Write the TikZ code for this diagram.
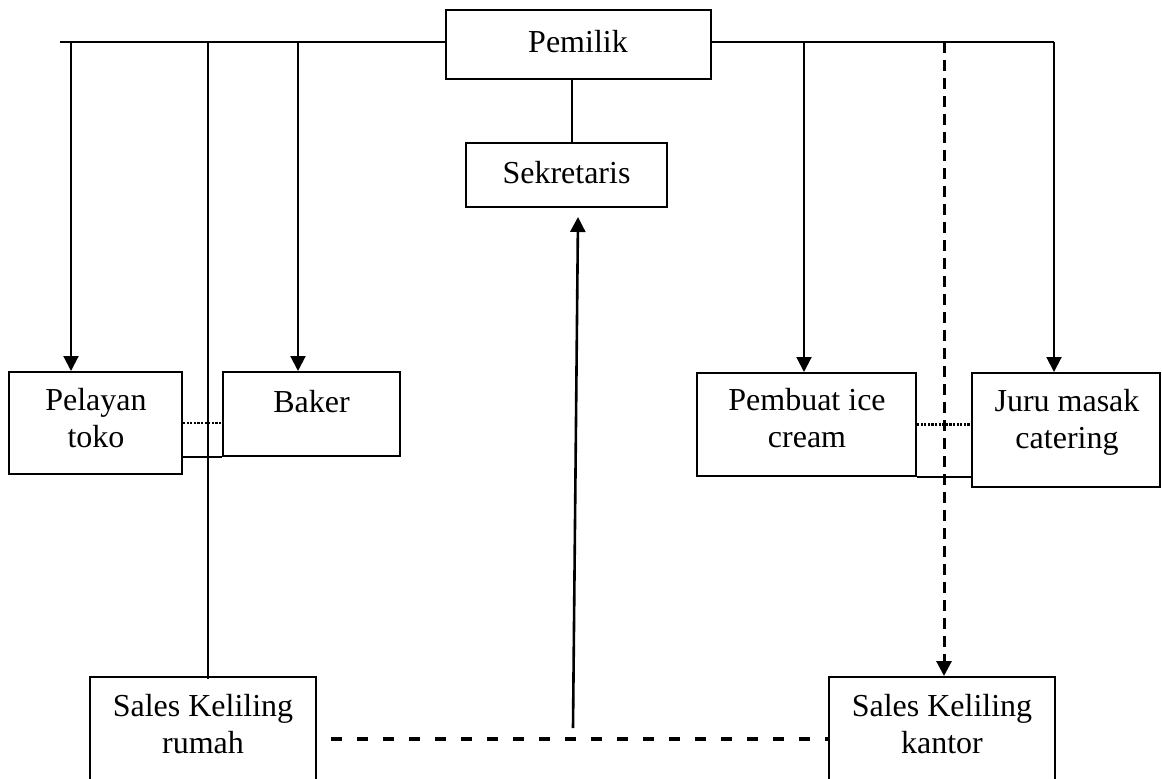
\documentclass[tikz,border=0pt]{standalone}
\usepackage{fontspec}
\setmainfont{Liberation Serif}
\usetikzlibrary{arrows.meta}
\begin{document}
\begin{tikzpicture}[x=0.5pt,y=-0.5pt,
  box/.style={draw,line width=1pt,rectangle,inner sep=0pt},
  txt/.style={font=\fontsize{16}{18.5}\selectfont,inner sep=0pt,align=center,anchor=base},
  ln/.style={line width=1pt},
  arr/.style={line width=1pt,-{Triangle[length=7.5pt,width=7.5pt]}},
  arrthick/.style={line width=1.3pt,-{Triangle[length=7.5pt,width=7.5pt]}},
  dsharr/.style={line width=1.5pt,dash pattern=on 5.5pt off 3.5pt,-{Triangle[length=7.5pt,width=7.5pt]}},
  dshh/.style={line width=2pt,dash pattern=on 5.5pt off 7.5pt},
  dotln/.style={line width=1.4pt,dash pattern=on 1.1pt off 0.7pt}
]
\clip (0,0) rectangle (1162,778);

% boxes
\node[box,minimum width=132.5pt,minimum height=34.5pt] (Pemilik) at (578.5,44.5) {};
\node[box,minimum width=100.5pt,minimum height=32pt] (Sekretaris) at (566.5,175) {};
\node[box,minimum width=86.5pt,minimum height=51pt] (Pelayan) at (95.5,423) {};
\node[box,minimum width=88.5pt,minimum height=42pt] (Baker) at (311.5,414) {};
\node[box,minimum width=109.5pt,minimum height=51.5pt] (Pembuat) at (806.5,424.5) {};
\node[box,minimum width=94pt,minimum height=57pt] (Juru) at (1066,430) {};
\node[box,minimum width=113pt,minimum height=56.5pt] (Rumah) at (203,733.5) {};
\node[box,minimum width=113pt,minimum height=56.5pt] (Kantor) at (942,733.5) {};

% texts (base = baseline of the last line)
\node[txt] (tPemilik) at (578,52) {Pemilik};
\node[txt] (tSekretaris) at (566.5,183) {Sekretaris};
\node[txt] (tPelayan) at (96,447) {Pelayan\\toko};
\node[txt] (tBaker) at (311.5,412) {Baker};
\node[txt] (tPembuat) at (807,447) {Pembuat ice\\cream};
\node[txt] (tJuru) at (1067,448) {Juru masak\\catering};
\node[txt] (tRumah) at (203,753) {Sales Keliling\\rumah};
\node[txt] (tKantor) at (942,753) {Sales Keliling\\kantor};

% bus line
\coordinate (bL) at (60,42);
\coordinate (bR) at (1054,42);
\draw[ln] (bL) -- (bL -| Pemilik.west);
\draw[ln] (Pemilik.east |- bR) -- (bR);

% drops
\coordinate (cPel) at (71,42);
\coordinate (cRum) at (208,42);
\coordinate (cBak) at (298,42);
\coordinate (cPem) at (804,42);
\coordinate (cKan) at (944,42);
\draw[arr] (cPel) -- (cPel |- Pelayan.north);
\draw[ln] (cRum) -- ([yshift=-1.5pt]cRum |- Rumah.north);
\draw[arr] (cBak) -- (cBak |- Baker.north);
\draw[arr] (cPem) -- (cPem |- Pembuat.north);
\draw[dsharr] (cKan) -- (cKan |- Kantor.north);
\draw[arr] (bR) -- (bR |- Juru.north);

% Pemilik - Sekretaris
\coordinate (cS) at (572,79);
\draw[ln] (cS |- Pemilik.south) -- (cS |- Sekretaris.north);

% arrow up to Sekretaris
\coordinate (aS) at (573,728);
\coordinate (aT) at (578,217);
\draw[arrthick] (aS) -- (aT);

% bottom dashed
\coordinate (dS) at (331,739);
\draw[dshh] (dS) -- (dS -| Kantor.west);

% side links
\draw[dotln] (Pelayan.east) -- (Pelayan.east -| Baker.west);
\draw[ln] (Baker.south west) -- (Baker.south west -| Pelayan.east);
\draw[dotln] (Pembuat.east) -- (Pembuat.east -| Juru.west);
\draw[ln] (Pembuat.south east) -- (Pembuat.south east -| Juru.west);
\end{tikzpicture}
\end{document}
